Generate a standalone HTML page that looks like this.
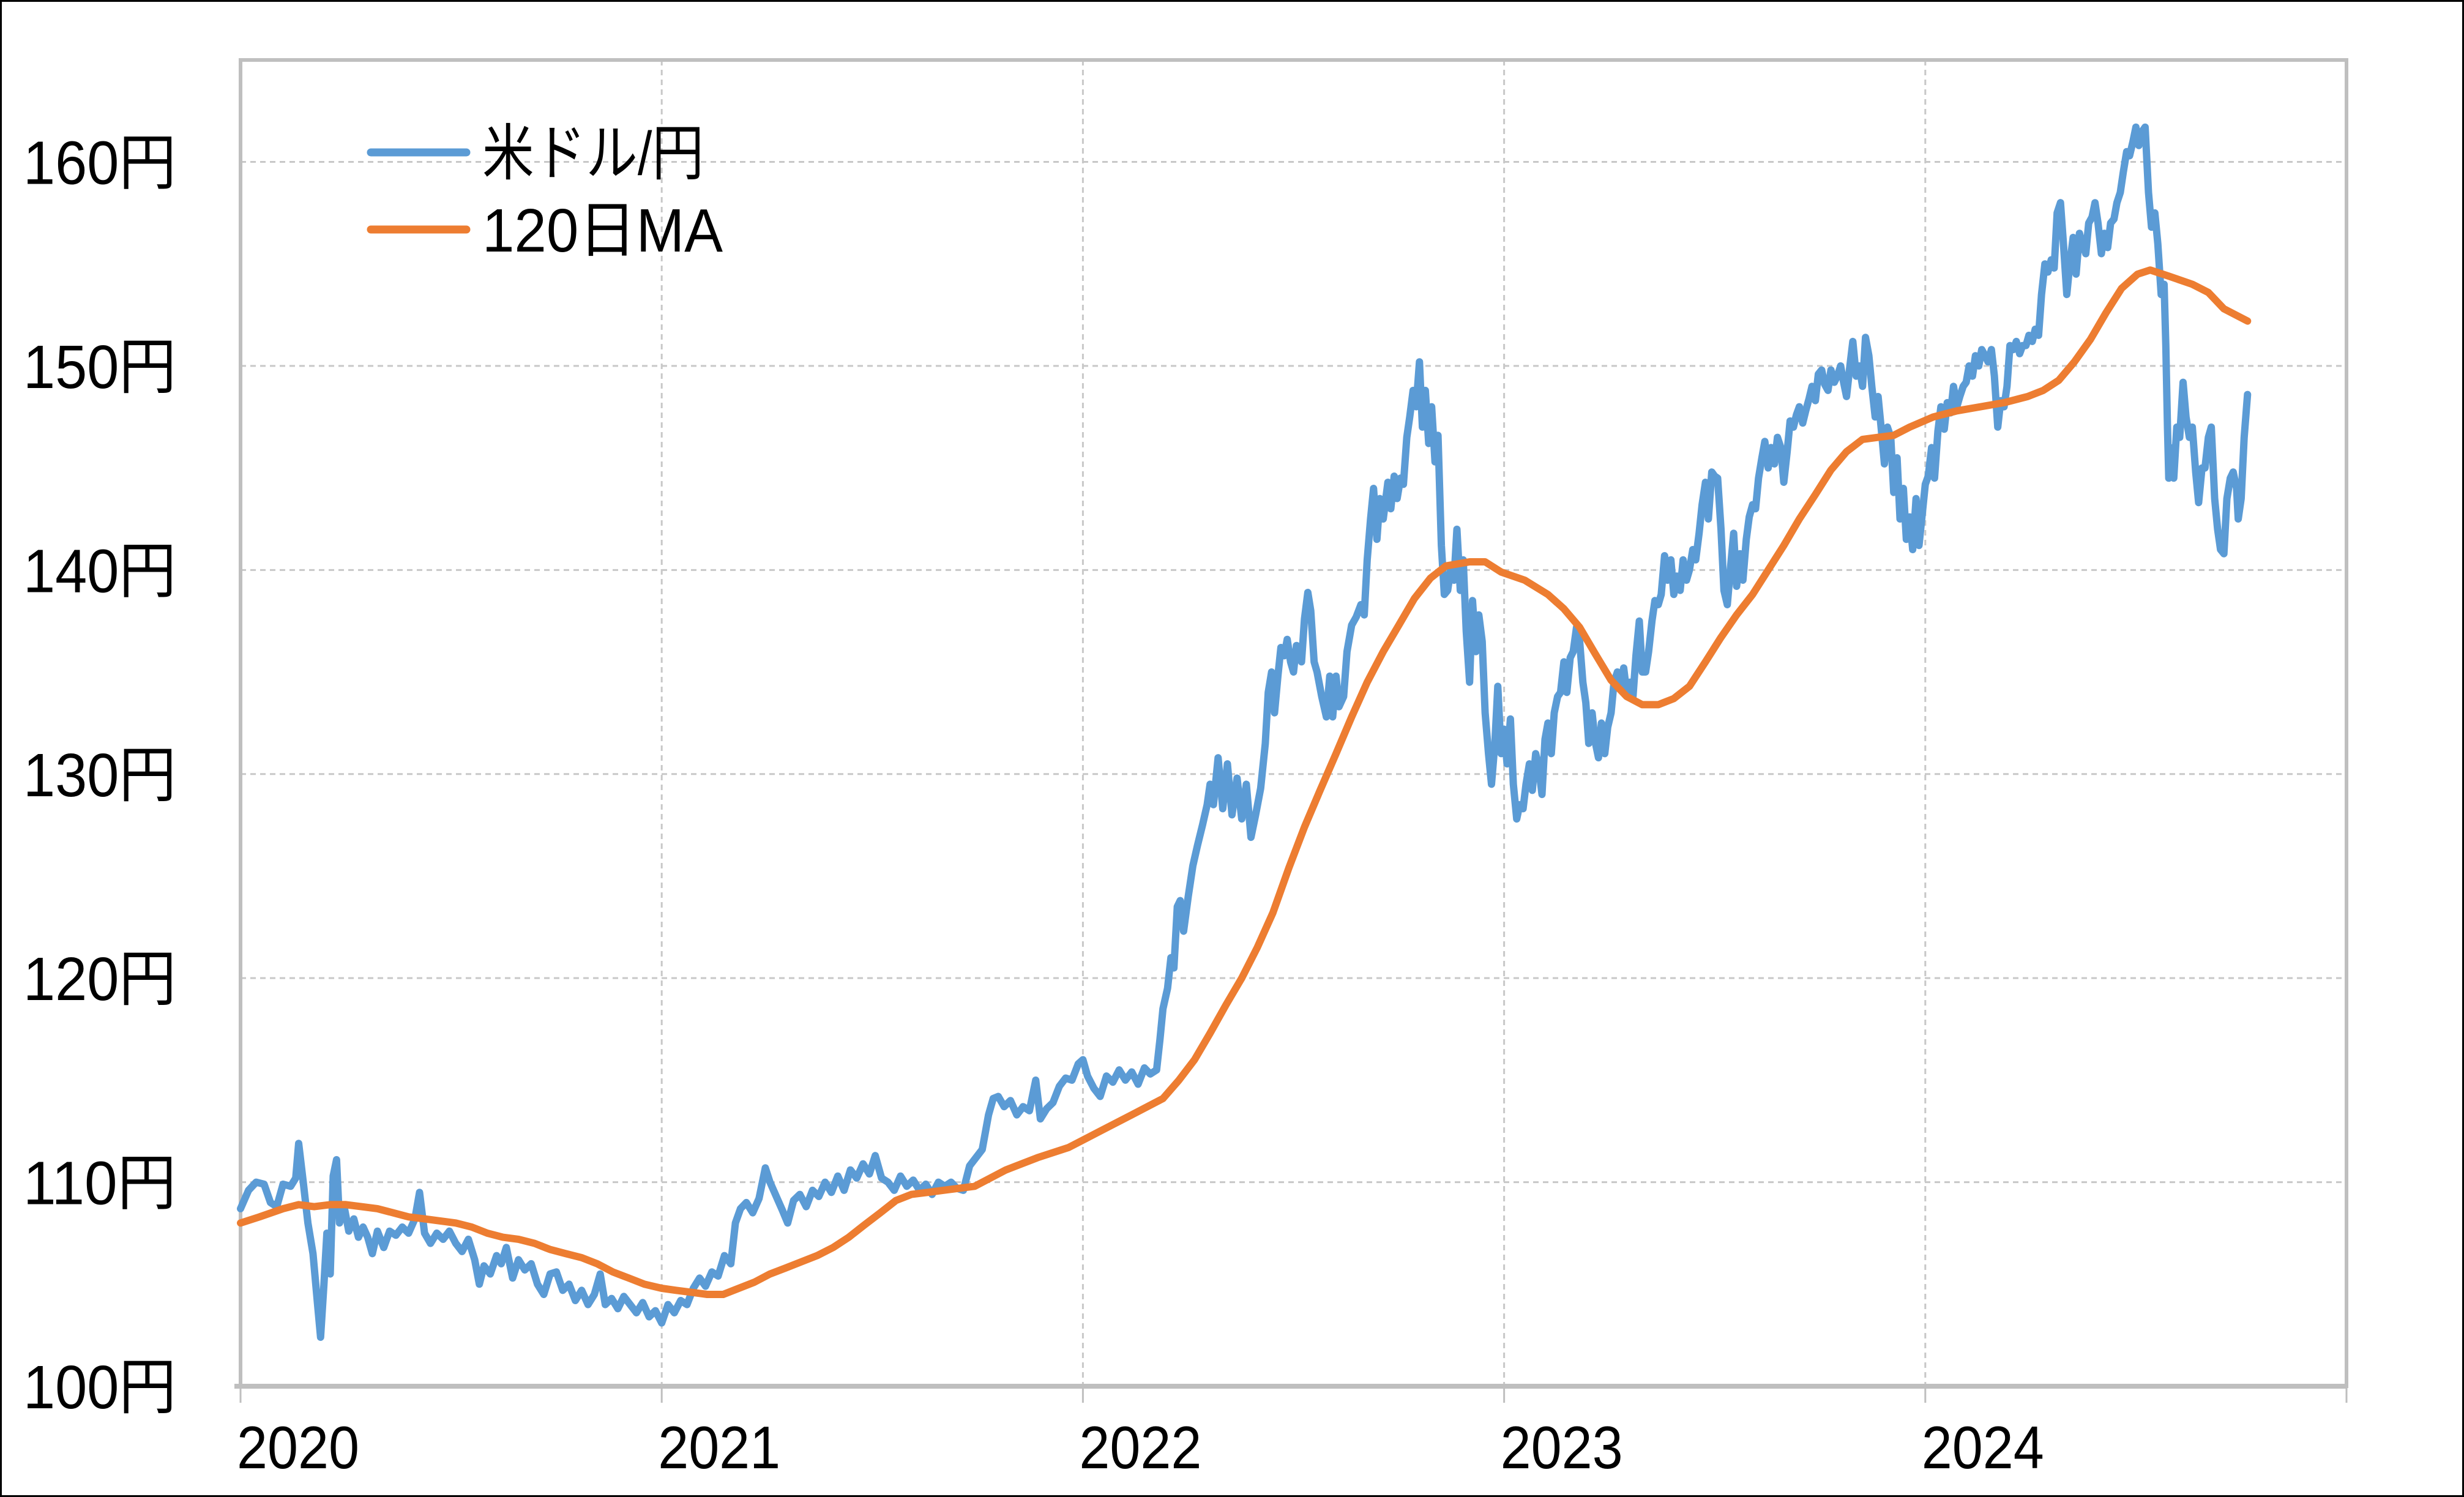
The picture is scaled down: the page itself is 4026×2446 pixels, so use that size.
<!DOCTYPE html>
<html>
<head>
<meta charset="utf-8">
<style>
  html, body { margin: 0; padding: 0; background: #fff; }
  svg { display: block; }
  text { font-family: "Liberation Sans", "Noto Sans CJK JP", sans-serif; fill: #000; }
</style>
</head>
<body>
<svg id="chart" width="4026" height="2446" viewBox="0 0 4026 2446" xmlns="http://www.w3.org/2000/svg">
  <rect x="0" y="0" width="4026" height="2446" fill="#fff"/>
  <rect x="1.5" y="1.5" width="4023" height="2443" fill="none" stroke="#000" stroke-width="3"/>
  <g id="grid"></g>
  <g id="axes"></g>
  <g id="series"></g>
  <g id="legend">
    <line x1="606" y1="249" x2="762" y2="249" stroke="#5b9bd5" stroke-width="13" stroke-linecap="round"/>
    <text x="788" y="285" font-size="100" textLength="362" lengthAdjust="spacingAndGlyphs">米ドル/円</text>
    <line x1="606" y1="375" x2="762" y2="375" stroke="#ed7d31" stroke-width="13" stroke-linecap="round"/>
    <text x="788" y="411" font-size="100" textLength="393" lengthAdjust="spacingAndGlyphs">120日MA</text>
  </g>
</svg>
<script>
// ---- chart data ----
const yTicks = [100, 110, 120, 130, 140, 150, 160];
const yTickLabels = ["100円", "110円", "120円", "130円", "140円", "150円", "160円"];
const xTicks = [2020, 2021, 2022, 2023, 2024, 2025];
const xTickLabels = ["2020", "2021", "2022", "2023", "2024", ""];

const usdDates = [2020.000,2020.019,2020.037,2020.056,2020.071,2020.086,2020.101,2020.119,2020.131,2020.138,2020.149,2020.160,2020.172,2020.183,2020.190,2020.198,2020.205,2020.213,2020.220,2020.228,2020.235,2020.246,2020.257,2020.269,2020.280,2020.291,2020.302,2020.313,2020.325,2020.340,2020.354,2020.369,2020.384,2020.399,2020.414,2020.425,2020.437,2020.451,2020.466,2020.481,2020.496,2020.511,2020.526,2020.541,2020.556,2020.567,2020.578,2020.593,2020.608,2020.619,2020.631,2020.646,2020.660,2020.675,2020.690,2020.705,2020.720,2020.735,2020.750,2020.765,2020.780,2020.795,2020.810,2020.825,2020.840,2020.854,2020.866,2020.881,2020.896,2020.910,2020.925,2020.940,2020.955,2020.970,2020.985,
2021.000,2021.015,2021.030,2021.045,2021.060,2021.075,2021.090,2021.104,2021.119,2021.134,2021.149,2021.164,2021.175,2021.187,2021.201,2021.216,2021.231,2021.246,2021.257,2021.272,2021.287,2021.299,2021.313,2021.328,2021.343,2021.358,2021.373,2021.388,2021.403,2021.418,2021.433,2021.448,2021.463,2021.478,2021.493,2021.507,2021.522,2021.537,2021.552,2021.567,2021.582,2021.597,2021.612,2021.627,2021.642,2021.657,2021.672,2021.687,2021.701,2021.716,2021.731,2021.746,2021.761,2021.776,2021.787,2021.799,2021.813,2021.828,2021.843,2021.858,2021.873,2021.888,2021.899,2021.914,2021.929,2021.944,2021.959,2021.974,2021.989,
2022.000,2022.011,2022.026,2022.041,2022.056,2022.071,2022.086,2022.101,2022.116,2022.131,2022.146,2022.160,2022.175,2022.183,2022.190,2022.201,2022.209,2022.216,2022.224,2022.231,2022.239,2022.250,2022.261,2022.272,2022.284,2022.295,2022.302,2022.310,2022.321,2022.332,2022.343,2022.354,2022.366,2022.377,2022.388,2022.399,2022.410,2022.422,2022.433,2022.440,2022.448,2022.455,2022.463,2022.470,2022.478,2022.485,2022.493,2022.500,2022.507,2022.519,2022.526,2022.534,2022.541,2022.549,2022.556,2022.567,2022.578,2022.586,2022.593,2022.601,2022.608,2022.619,2022.627,2022.638,2022.649,2022.660,2022.668,2022.675,2022.683,2022.690,2022.698,2022.705,2022.713,2022.724,2022.731,2022.739,2022.746,2022.754,2022.761,2022.769,2022.776,2022.784,2022.791,2022.799,2022.806,2022.813,2022.821,2022.828,2022.836,2022.843,2022.851,2022.858,2022.866,2022.873,2022.881,2022.888,2022.896,2022.903,2022.910,2022.918,2022.925,2022.933,2022.940,2022.948,2022.955,2022.963,2022.970,2022.978,2022.985,2022.993,
2023.000,2023.007,2023.015,2023.022,2023.030,2023.037,2023.045,2023.052,2023.060,2023.067,2023.075,2023.082,2023.090,2023.097,2023.104,2023.112,2023.119,2023.127,2023.134,2023.142,2023.149,2023.157,2023.164,2023.172,2023.179,2023.187,2023.194,2023.201,2023.209,2023.216,2023.224,2023.231,2023.239,2023.246,2023.254,2023.261,2023.269,2023.276,2023.284,2023.291,2023.299,2023.306,2023.313,2023.321,2023.328,2023.336,2023.343,2023.351,2023.358,2023.366,2023.373,2023.381,2023.388,2023.396,2023.403,2023.410,2023.418,2023.425,2023.433,2023.440,2023.448,2023.455,2023.463,2023.470,2023.478,2023.485,2023.493,2023.500,2023.507,2023.515,2023.522,2023.530,2023.537,2023.545,2023.552,2023.560,2023.567,2023.575,2023.582,2023.590,2023.597,2023.604,2023.612,2023.619,2023.627,2023.634,2023.642,2023.649,2023.657,2023.664,2023.672,2023.679,2023.687,2023.694,2023.701,2023.709,2023.716,2023.724,2023.731,2023.739,2023.746,2023.754,2023.761,2023.769,2023.776,2023.784,2023.791,2023.799,2023.806,2023.813,2023.821,2023.828,2023.836,2023.843,2023.851,2023.858,2023.866,2023.873,2023.881,2023.888,2023.896,2023.903,2023.910,2023.918,2023.925,2023.933,2023.940,2023.948,2023.955,2023.963,2023.970,2023.978,2023.985,2023.993,
2024.000,2024.007,2024.015,2024.022,2024.030,2024.037,2024.045,2024.052,2024.060,2024.067,2024.075,2024.082,2024.090,2024.097,2024.104,2024.112,2024.119,2024.127,2024.134,2024.142,2024.149,2024.157,2024.164,2024.172,2024.179,2024.187,2024.194,2024.201,2024.209,2024.216,2024.224,2024.231,2024.239,2024.246,2024.254,2024.261,2024.269,2024.276,2024.284,2024.291,2024.299,2024.306,2024.313,2024.321,2024.328,2024.336,2024.343,2024.351,2024.358,2024.366,2024.373,2024.381,2024.388,2024.396,2024.403,2024.410,2024.418,2024.425,2024.433,2024.440,2024.448,2024.455,2024.463,2024.470,2024.478,2024.485,2024.493,2024.500,2024.507,2024.515,2024.522,2024.530,2024.537,2024.545,2024.552,2024.560,2024.567,2024.571,2024.575,2024.578,2024.582,2024.590,2024.597,2024.604,2024.612,2024.619,2024.627,2024.634,2024.642,2024.649,2024.657,2024.664,2024.672,2024.679,2024.687,2024.694,2024.701,2024.709,2024.716,2024.724,2024.731,2024.739,2024.743,2024.750,2024.757,2024.765];

const usdValues = [108.7,109.6,110.0,109.9,109.0,108.8,109.9,109.8,110.2,111.9,110.0,108.0,106.5,104.0,102.4,105.0,107.5,105.5,110.3,111.1,108.0,108.8,107.6,108.2,107.3,107.8,107.3,106.5,107.6,106.8,107.6,107.4,107.8,107.5,108.2,109.5,107.5,107.0,107.5,107.2,107.6,107.0,106.6,107.2,106.2,105.0,105.9,105.5,106.4,106.0,106.8,105.3,106.2,105.7,106.0,105.0,104.5,105.5,105.6,104.7,105.0,104.2,104.7,104.0,104.5,105.5,104.0,104.3,103.8,104.4,104.0,103.6,104.1,103.4,103.7,
103.1,104.0,103.6,104.2,104.0,104.8,105.3,104.9,105.6,105.4,106.4,106.0,108.0,108.7,109.0,108.5,109.2,110.7,110.0,109.3,108.6,108.0,109.1,109.4,108.8,109.6,109.3,110.0,109.5,110.3,109.6,110.6,110.2,110.9,110.4,111.3,110.2,110.0,109.6,110.3,109.8,110.1,109.6,109.9,109.4,110.0,109.8,110.0,109.7,109.6,110.8,111.2,111.6,113.3,114.1,114.2,113.7,114.0,113.3,113.7,113.5,115.0,113.1,113.6,113.9,114.7,115.1,115.0,115.8,
116.0,115.2,114.6,114.2,115.2,114.9,115.5,115.0,115.4,114.8,115.6,115.3,115.5,117.0,118.5,119.5,121.0,120.5,123.5,123.8,122.3,124.0,125.5,126.5,127.5,128.5,129.5,128.5,130.8,128.3,130.5,128.0,129.8,127.8,129.5,126.9,128.0,129.3,131.5,134.0,135.0,133.0,134.8,136.2,135.8,136.6,135.5,135.0,136.3,135.5,137.6,138.9,138.0,135.5,135.0,133.8,132.8,134.8,132.8,134.8,133.3,133.8,136.0,137.3,137.7,138.3,137.8,140.5,142.5,144.0,141.5,143.5,142.5,144.3,143.0,144.6,143.5,144.5,144.2,146.5,147.5,148.8,148.0,150.2,147.0,148.8,146.2,148.0,145.3,146.6,141.2,138.8,139.0,140.0,139.5,142.0,139.0,140.5,137.0,134.5,138.5,136.0,137.8,136.5,133.0,131.0,129.5,131.5,134.3,131.0,
132.2,130.5,132.7,129.5,127.8,128.5,128.3,129.5,130.5,129.2,131.0,130.4,129.0,131.7,132.5,131.0,133.0,133.8,134.0,135.5,134.0,135.7,136.0,137.2,136.6,134.5,133.5,131.5,133.0,131.6,130.8,132.5,131.0,132.3,133.0,134.5,135.0,134.3,135.2,134.0,134.5,133.8,135.8,137.5,135.0,135.0,136.0,137.5,138.5,138.3,138.8,140.7,139.5,140.5,138.8,139.7,139.0,140.5,139.5,140.0,141.0,140.5,141.8,143.2,144.3,142.5,144.8,144.6,144.5,142.0,139.0,138.3,140.0,141.8,139.2,140.8,139.5,141.5,142.6,143.2,143.0,144.5,145.5,146.3,145.0,146.0,145.2,146.5,146.0,144.3,145.8,147.3,147.0,147.6,148.0,147.2,147.8,148.4,149.0,148.3,149.6,149.8,149.1,148.8,149.8,149.2,149.5,150.0,149.2,148.5,150.0,151.2,149.5,150.0,149.0,151.4,150.5,149.0,147.5,148.5,146.8,145.2,147.0,146.5,143.8,145.5,142.5,144.0,141.5,142.6,141.0,143.5,141.2,142.8,
144.2,144.6,146.0,144.5,146.8,148.0,146.9,148.2,147.7,149.0,148.0,148.5,149.0,149.2,150.0,149.5,150.5,150.0,150.8,150.5,150.2,150.8,149.5,147.0,148.3,148.0,149.0,151.0,150.8,151.2,150.6,151.0,151.0,151.5,151.2,151.8,151.5,153.5,155.0,154.6,155.2,154.8,157.5,158.0,156.0,153.5,155.0,156.3,154.5,156.5,156.0,155.5,157.0,157.3,158.0,157.0,155.5,156.5,155.8,157.0,157.2,158.0,158.5,159.5,160.5,160.3,161.0,161.7,160.8,161.5,161.7,158.5,156.8,157.5,156.0,153.5,154.0,151.0,147.0,144.5,146.0,144.5,147.0,146.5,149.2,147.5,146.5,147.0,144.8,143.3,145.0,145.0,146.5,147.0,143.5,142.0,141.0,140.8,143.5,144.5,144.8,144.0,142.5,143.5,146.5,148.6];

const maDates = [2020.000,2020.045,2020.101,2020.138,2020.175,2020.213,2020.250,2020.287,2020.325,2020.362,2020.399,2020.437,2020.474,2020.511,2020.549,2020.586,2020.623,2020.660,2020.698,2020.735,2020.772,2020.810,2020.847,2020.884,2020.922,2020.959,2021.000,2021.034,2021.071,2021.108,2021.146,2021.183,2021.220,2021.257,2021.295,2021.332,2021.369,2021.407,2021.444,2021.481,2021.519,2021.556,2021.593,2021.631,2021.668,2021.743,2021.817,2021.892,2021.966,2022.041,2022.116,2022.190,2022.228,2022.265,2022.302,2022.340,2022.377,2022.414,2022.451,2022.489,2022.526,2022.563,2022.601,2022.638,2022.675,2022.713,2022.750,2022.787,2022.825,2022.862,2022.918,2022.955,2022.993,2023.049,2023.104,2023.142,2023.179,2023.216,2023.254,2023.291,2023.328,2023.366,2023.403,2023.440,2023.478,2023.515,2023.552,2023.590,2023.627,2023.664,2023.701,2023.739,2023.776,2023.813,2023.851,2023.888,2023.925,2023.963,2024.019,2024.075,2024.131,2024.187,2024.243,2024.280,2024.317,2024.354,2024.392,2024.429,2024.466,2024.504,2024.534,2024.578,2024.634,2024.672,2024.709,2024.765];

const maValues = [108.0,108.3,108.7,108.9,108.8,108.9,108.9,108.8,108.7,108.5,108.3,108.2,108.1,108.0,107.8,107.5,107.3,107.2,107.0,106.7,106.5,106.3,106.0,105.6,105.3,105.0,104.8,104.7,104.6,104.5,104.5,104.8,105.1,105.5,105.8,106.1,106.4,106.8,107.3,107.9,108.5,109.1,109.4,109.5,109.6,109.8,110.6,111.2,111.7,112.5,113.3,114.1,115.0,116.0,117.3,118.7,120.0,121.5,123.2,125.4,127.4,129.2,131.0,132.8,134.5,136.0,137.3,138.6,139.6,140.2,140.4,140.4,139.9,139.5,138.8,138.1,137.2,135.9,134.6,133.8,133.4,133.4,133.7,134.3,135.5,136.7,137.8,138.8,140.0,141.2,142.5,143.7,144.9,145.8,146.4,146.5,146.6,147.0,147.5,147.8,148.0,148.2,148.5,148.8,149.3,150.2,151.3,152.6,153.8,154.5,154.7,154.4,154.0,153.6,152.8,152.2];

// ---- axis functions ----
const PL = 393, PR = 3834, PT = 98, PB = 2265;
const xMin = 2020, xMax = 2025, yMin = 100, yMax = 160;
const Y160 = 264.5;
function xScale(t) { return PL + (t - xMin) * (PR - PL) / (xMax - xMin); }
function yScale(v) { return PB - (v - yMin) * (PB - Y160) / (yMax - yMin); }

const NS = "http://www.w3.org/2000/svg";
function mk(tag, parent, attrs) {
  const el = document.createElementNS(NS, tag);
  for (const k in attrs) el.setAttribute(k, attrs[k]);
  parent.appendChild(el);
  return el;
}
const grid = document.getElementById('grid');
const axes = document.getElementById('axes');
const series = document.getElementById('series');

// horizontal gridlines + y labels
yTicks.forEach((v, i) => {
  const y = yScale(v);
  if (v > yMin) {
    const g = mk('line', grid, {x1: PL, x2: PR, y1: y, y2: y, stroke: '#c8c8c8', 'stroke-width': 3, 'stroke-dasharray': '9 7'});
    
    
  }
  const t = mk('text', axes, {x: 38, y: y + 36, 'font-size': 100, textLength: 250, lengthAdjust: 'spacingAndGlyphs'});
  t.textContent = yTickLabels[i];
  
  
});

// vertical gridlines + x labels + ticks
xTicks.forEach((yr, i) => {
  const x = xScale(yr);
  if (yr > xMin && yr < xMax) {
    const g = mk('line', grid, {x1: x, x2: x, y1: PT, y2: PB, stroke: '#c8c8c8', 'stroke-width': 3, 'stroke-dasharray': '9 7'});
    
    
  }
  const tk = mk('line', axes, {x1: x, x2: x, y1: PB, y2: PB + 27, stroke: '#bfbfbf', 'stroke-width': 3});
  
  
  if (xTickLabels[i]) {
    const t = mk('text', axes, {x: x - 6, y: 2399, 'font-size': 98, textLength: 200, lengthAdjust: 'spacingAndGlyphs'});
    t.textContent = xTickLabels[i];
    
    
  }
});

// plot frame
const frame = mk('rect', axes, {x: PL, y: PT, width: PR - PL, height: PB - PT, fill: 'none', stroke: '#bfbfbf', 'stroke-width': 6});


const xAxis = mk('line', axes, {x1: PL - 10, x2: PR, y1: PB, y2: PB, stroke: '#bfbfbf', 'stroke-width': 8});



// series
function pathFrom(dates, vals) {
  return dates.map((d, i) => (i ? 'L' : 'M') + xScale(d).toFixed(1) + ' ' + yScale(vals[i]).toFixed(1)).join(' ');
}
const usdLine = mk('path', series, {d: pathFrom(usdDates, usdValues), fill: 'none', stroke: '#5b9bd5', 'stroke-width': 12, 'stroke-linejoin': 'round', 'stroke-linecap': 'round'});


const maLine = mk('path', series, {d: pathFrom(maDates, maValues), fill: 'none', stroke: '#ed7d31', 'stroke-width': 12, 'stroke-linejoin': 'round', 'stroke-linecap': 'round'});


</script>
</body>
</html>
